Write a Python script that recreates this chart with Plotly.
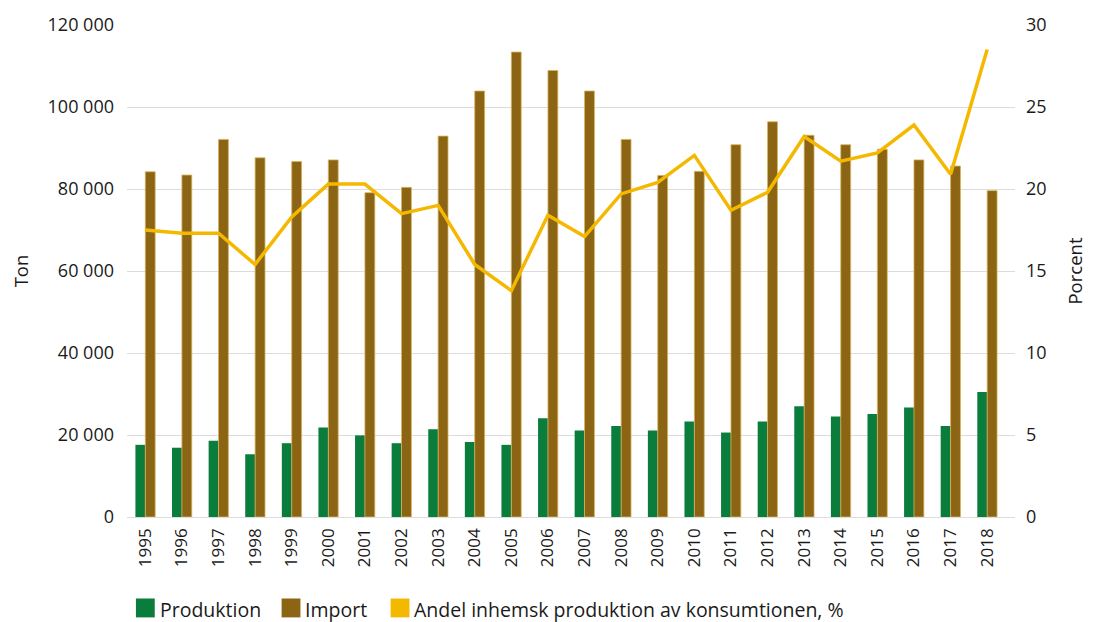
import plotly.graph_objects as go

years = [str(y) for y in range(1995, 2019)]
produktion = [17600, 16900, 18600, 15300, 18000, 21800, 19900, 18000, 21400, 18300,
              17600, 24100, 21100, 22200, 21100, 23300, 20600, 23300, 27000, 24500,
              25100, 26700, 22200, 30500]
importer = [84200, 83400, 92100, 87600, 86700, 87100, 79100, 80400, 92900, 103900,
            113400, 108900, 103900, 92100, 83300, 84300, 90800, 96400, 93100, 90800,
            89700, 87100, 85600, 79600]
andel = [17.5, 17.3, 17.3, 15.4, 18.3, 20.3, 20.3, 18.5, 19.0, 15.4,
         13.8, 18.4, 17.1, 19.7, 20.4, 22.05, 18.7, 19.8, 23.2, 21.7,
         22.2, 23.9, 20.9, 28.5]

GREEN = "#0a7c3b"
BROWN = "#8b6414"
YELLOW = "#f5b800"
FONT = "Open Sans"

legend_labels = ["Produktion", "Import", "Andel inhemsk produktion av konsumtionen, %"]
legend_colors = [GREEN, BROWN, YELLOW]

fig = go.Figure()
fig.add_trace(go.Bar(x=years, y=produktion, name=legend_labels[0],
                     marker=dict(color=GREEN, line=dict(width=0))))
fig.add_trace(go.Bar(x=years, y=importer, name=legend_labels[1],
                     marker=dict(color=BROWN, line=dict(color="#d8b45e", width=0.8))))
fig.add_trace(go.Scatter(x=years, y=andel, name=legend_labels[2], yaxis="y2",
                         mode="lines", line=dict(color=YELLOW, width=3.5)))

# plot area in pixels: x 127..1023, y 22..517
W, H = 1095, 622
L, R, T, B = 127, 1023, 22, 517
pw, ph = R - L, B - T


def px_x(x):
    return (x - L) / pw


def px_y(y):
    return (B - y) / ph


shapes = []
annotations = []
legend_x = [136, 283, 393]
for lx, lab, col in zip(legend_x, legend_labels, legend_colors):
    shapes.append(dict(type="rect", xref="paper", yref="paper",
                       x0=px_x(lx), x1=px_x(lx + 19), y0=px_y(618), y1=px_y(599),
                       fillcolor=col, line=dict(width=0)))
    annotations.append(dict(text=lab, xref="paper", yref="paper",
                            x=px_x(lx + 22), y=px_y(610), xanchor="left", yanchor="middle",
                            showarrow=False, font=dict(family=FONT, size=19.5, color="#1a1a1a")))

fig.update_layout(
    width=W, height=H,
    margin=dict(l=L, r=W - R, t=T, b=H - B),
    paper_bgcolor="white", plot_bgcolor="white",
    separators=", ",
    barmode="group", bargap=0.46, bargroupgap=0,
    showlegend=False,
    font=dict(family=FONT, size=18, color="#1a1a1a"),
    xaxis=dict(type="category", range=[-0.5, 23.76], tickangle=-90,
               showgrid=False, showline=False, ticks="",
               tickfont=dict(size=17), ticklabelstandoff=7),
    yaxis=dict(range=[0, 120000], dtick=20000, tickformat=",d",
               showgrid=True, gridcolor="#dcdcdc", gridwidth=1,
               zeroline=True, zerolinecolor="#dcdcdc", zerolinewidth=1,
               showline=False, ticks="", ticklabelstandoff=12,
               title=dict(text="Ton", font=dict(size=18.5), standoff=14)),
    yaxis2=dict(range=[0, 30], dtick=5, overlaying="y", side="right",
                showgrid=False, zeroline=False, showline=False, ticks="",
                ticklabelstandoff=10,
                title=dict(text="Porcent", font=dict(size=18.5), standoff=23)),
    shapes=shapes,
    annotations=annotations,
)

fig.write_html("out.html")
